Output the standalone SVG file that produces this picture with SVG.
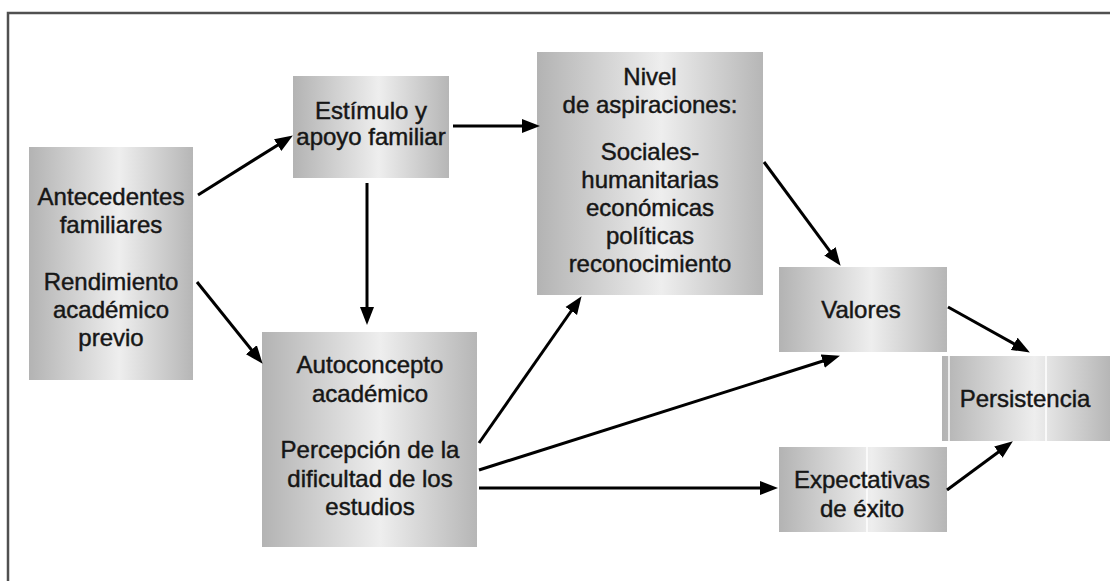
<svg xmlns="http://www.w3.org/2000/svg" width="1110" height="581" viewBox="0 0 1110 581">
  <defs>
    <linearGradient id="g" x1="0" y1="0" x2="1" y2="0">
      <stop offset="0" stop-color="#b3b3b3"/>
      <stop offset="0.55" stop-color="#eeeeee"/>
      <stop offset="1" stop-color="#b6b6b6"/>
    </linearGradient>
    <marker id="ah" markerUnits="userSpaceOnUse" markerWidth="19" markerHeight="15" refX="6" refY="7.5" orient="auto">
      <path d="M0,0.5 L18,7.5 L0,14.5 z" fill="#000"/>
    </marker>
  </defs>
  <style>
    .box { fill: url(#g); }
    .t { font-family: "Liberation Sans", Arial, sans-serif; font-size: 24px; fill: #161616; stroke: #161616; stroke-width: 0.45; text-anchor: middle; }
    .c { stroke: #000; stroke-width: 3; fill: none; marker-end: url(#ah); }
    .sep { stroke: #ffffff; stroke-width: 1.5; }
  </style>
  <rect width="1110" height="581" fill="#fff"/>
  <path d="M8,581 L8,13 L1110,13" fill="none" stroke="#505050" stroke-width="2.5"/>

  <g id="antecedentes">
    <rect class="box" x="29" y="147" width="164" height="233"/>
    <text class="t" x="111" y="205">Antecedentes</text>
    <text class="t" x="111" y="233">familiares</text>
    <text class="t" x="111" y="290">Rendimiento</text>
    <text class="t" x="111" y="318">académico</text>
    <text class="t" x="111" y="346">previo</text>
  </g>

  <g id="estimulo">
    <rect class="box" x="293" y="76" width="156" height="102"/>
    <text class="t" x="371" y="119">Estímulo y</text>
    <text class="t" x="371" y="145">apoyo familiar</text>
  </g>

  <g id="autoconcepto">
    <rect class="box" x="262" y="332" width="215" height="215"/>
    <text class="t" x="370" y="373">Autoconcepto</text>
    <text class="t" x="370" y="402">académico</text>
    <text class="t" x="370" y="458">Percepción de la</text>
    <text class="t" x="370" y="487">dificultad de los</text>
    <text class="t" x="370" y="515">estudios</text>
  </g>

  <g id="nivel">
    <rect class="box" x="537" y="52" width="226" height="243"/>
    <text class="t" x="650" y="85">Nivel</text>
    <text class="t" x="650" y="113">de aspiraciones:</text>
    <text class="t" x="650" y="160">Sociales-</text>
    <text class="t" x="650" y="188">humanitarias</text>
    <text class="t" x="650" y="216">económicas</text>
    <text class="t" x="650" y="244">políticas</text>
    <text class="t" x="650" y="272">reconocimiento</text>
  </g>

  <g id="valores">
    <rect class="box" x="779" y="267" width="168" height="85"/>
    <text class="t" x="861" y="318">Valores</text>
  </g>

  <g id="persistencia">
    <rect class="box" x="942" y="356" width="168" height="85"/>
    <line class="sep" x1="949" y1="356" x2="949" y2="441"/>
    <line class="sep" x1="1046" y1="356" x2="1046" y2="441"/>
    <text class="t" x="1025" y="407">Persistencia</text>
  </g>

  <g id="expectativas">
    <rect class="box" x="779" y="447" width="168" height="85"/>
    <line class="sep" x1="867" y1="447" x2="867" y2="532"/>
    <text class="t" x="862" y="488">Expectativas</text>
    <text class="t" x="862" y="517">de éxito</text>
  </g>

  <g id="connectors">
    <line class="c" x1="198" y1="195" x2="282.7" y2="141.9"/>
    <line class="c" x1="197" y1="282" x2="255.1" y2="354.4"/>
    <line class="c" x1="367" y1="183" x2="367" y2="313"/>
    <line class="c" x1="453" y1="126" x2="528" y2="126"/>
    <line class="c" x1="479" y1="443" x2="574.7" y2="306"/>
    <line class="c" x1="479" y1="470" x2="828.5" y2="359.3"/>
    <line class="c" x1="479" y1="488" x2="766" y2="488"/>
    <line class="c" x1="764" y1="162" x2="833.5" y2="256.1"/>
    <line class="c" x1="948" y1="307" x2="1019.4" y2="346.7"/>
    <line class="c" x1="947" y1="490" x2="1003.2" y2="448.5"/>
  </g>
</svg>
